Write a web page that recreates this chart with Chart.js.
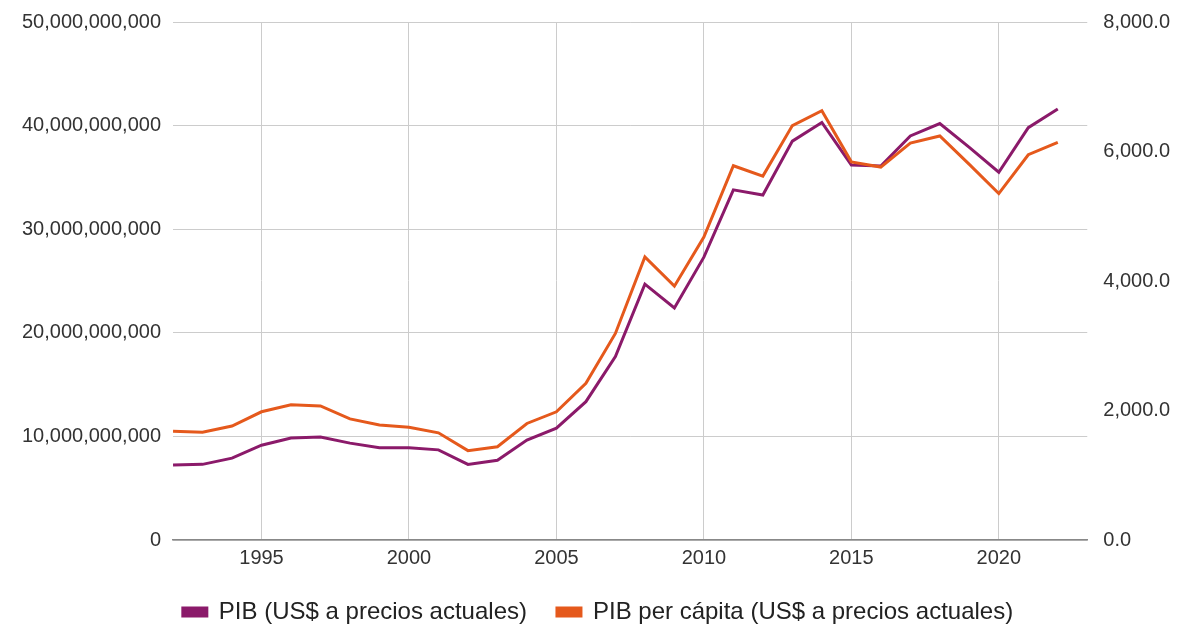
<!DOCTYPE html>
<html>
<head>
<meta charset="utf-8">
<script src="https://cdn.jsdelivr.net/npm/chart.js@4"></script>
<style>
  html, body { margin: 0; padding: 0; background: #fff; }
  #wrap { width: 1189px; height: 628px; }
</style>
</head>
<body>
<div id="wrap"><canvas id="pib"></canvas></div>
<script>
const years = [1992,1993,1994,1995,1996,1997,1998,1999,2000,2001,2002,2003,2004,2005,2006,2007,
  2008,2009,2010,2011,2012,2013,2014,2015,2016,2017,2018,2019,2020,2021,2022];
// PIB total, US$ corrientes
const pib = [7.24e9,7.30e9,7.90e9,9.15e9,9.85e9,9.95e9,9.35e9,8.90e9,8.90e9,8.70e9,7.30e9,7.70e9,
  9.65e9,10.8e9,13.35e9,17.7e9,24.7e9,22.4e9,27.3e9,33.8e9,33.3e9,38.5e9,40.3e9,36.2e9,36.1e9,
  39.0e9,40.2e9,37.9e9,35.5e9,39.8e9,41.6e9];
// PIB per cápita, US$ corrientes
const pibPerCapita = [1680,1665,1760,1980,2090,2070,1870,1775,1740,1655,1380,1440,1800,1980,2420,3190,
  4370,3920,4680,5780,5620,6400,6630,5840,5760,6130,6240,5800,5350,5950,6140];
const xTicks = [1995,2000,2005,2010,2015,2020];

const toPoints = vals => years.map((yr, i) => ({x: yr, y: vals[i]}));
const font = {family: "'Liberation Sans', Arial, sans-serif", size: 20};
// keep the top of the plot at a fixed distance from the canvas edge
const fixTop = s => { s.paddingTop = 22; };

const ctx = document.getElementById('pib').getContext('2d');
const chart = new Chart(ctx, {
  type: 'line',
  data: {
    datasets: [{
      label: 'PIB (US$ a precios actuales)',
      data: toPoints(pib),
      yAxisID: 'y',
      borderColor: '#8b1a6a',
      backgroundColor: '#8b1a6a',
      borderWidth: 3,
      pointRadius: 0,
      order: 1
    }, {
      label: 'PIB per cápita (US$ a precios actuales)',
      data: toPoints(pibPerCapita),
      yAxisID: 'y1',
      borderColor: '#e5591c',
      backgroundColor: '#e5591c',
      borderWidth: 3,
      pointRadius: 0,
      order: 0
    }]
  },
  options: {
    responsive: true,
    maintainAspectRatio: false,
    animation: false,
    layout: {padding: {left: 10, right: 3, top: 0, bottom: 0}},
    plugins: {
      tooltip: {enabled: false},
      legend: {
        position: 'bottom',
        maxHeight: 58,
        labels: {
          color: '#222',
          font: {family: font.family, size: 24},
          boxWidth: 24,
          boxHeight: 8,
          padding: 30,
          sort: (a, b) => a.datasetIndex - b.datasetIndex
        }
      }
    },
    scales: {
      x: {
        type: 'linear',
        min: 1992,
        max: 2023,
        afterBuildTicks: s => { s.ticks = xTicks.map(v => ({value: v})); },
        afterFit: s => { s.height = 30; },
        grid: {color: '#cccccc', drawTicks: false},
        border: {display: true, color: '#888', width: 1.5},
        ticks: {color: '#333', font: font, padding: 6, maxRotation: 0, callback: v => String(v)}
      },
      y: {
        position: 'left',
        min: 0,
        max: 50e9,
        afterFit: fixTop,
        ticks: {stepSize: 10e9, color: '#333', font: font, padding: 12,
          callback: v => v.toLocaleString('en-US')},
        grid: {color: '#cccccc', drawTicks: false},
        border: {display: false}
      },
      y1: {
        position: 'right',
        min: 0,
        max: 8000,
        afterFit: fixTop,
        ticks: {stepSize: 2000, color: '#333', font: font, padding: 16,
          callback: v => v.toLocaleString('en-US', {minimumFractionDigits: 1, maximumFractionDigits: 1})},
        grid: {display: false, drawTicks: false},
        border: {display: false}
      }
    }
  }
});
</script>
</body>
</html>
